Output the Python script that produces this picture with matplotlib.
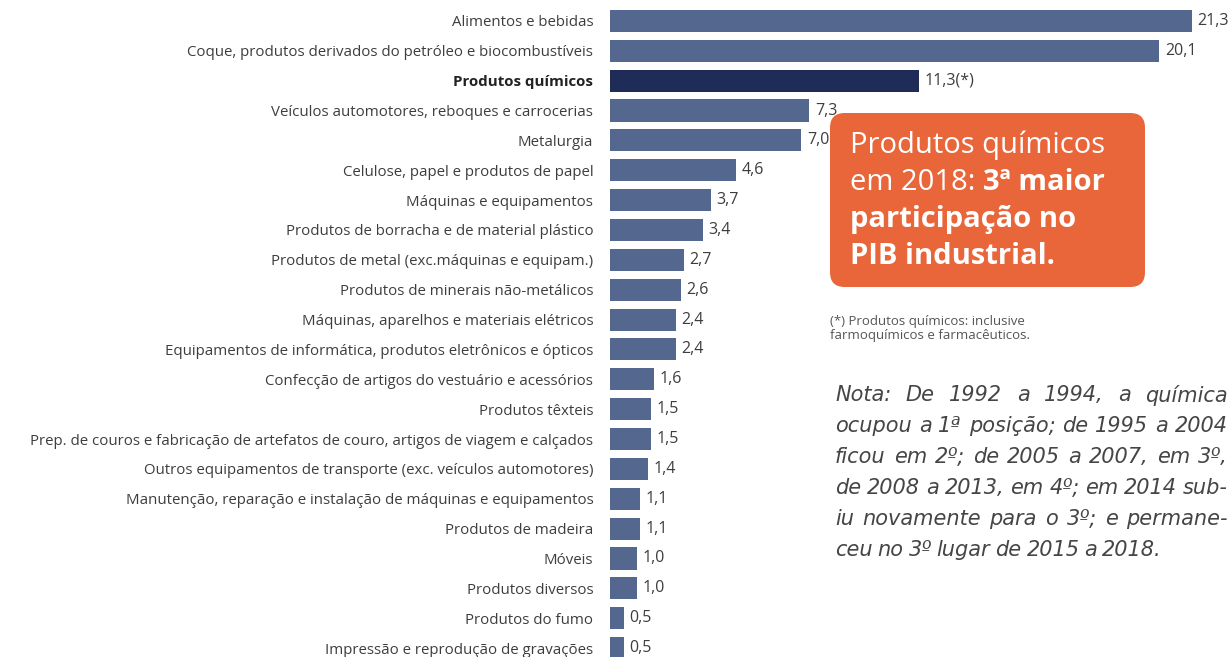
import matplotlib.pyplot as plt
from matplotlib.patches import FancyBboxPatch

setores = [
    'Alimentos e bebidas',
    'Coque, produtos derivados do petróleo e biocombustíveis',
    'Produtos químicos',
    'Veículos automotores, reboques e carrocerias',
    'Metalurgia',
    'Celulose, papel e produtos de papel',
    'Máquinas e equipamentos',
    'Produtos de borracha e de material plástico',
    'Produtos de metal (exc.máquinas e equipam.)',
    'Produtos de minerais não-metálicos',
    'Máquinas, aparelhos e materiais elétricos',
    'Equipamentos de informática, produtos eletrônicos e ópticos',
    'Confecção de artigos do vestuário e acessórios',
    'Produtos têxteis',
    'Prep. de couros e fabricação de artefatos de couro, artigos de viagem e calçados',
    'Outros equipamentos de transporte (exc. veículos automotores)',
    'Manutenção, reparação e instalação de máquinas e equipamentos',
    'Produtos de madeira',
    'Móveis',
    'Produtos diversos',
    'Produtos do fumo',
    'Impressão e reprodução de gravações',
]
participacao = [21.3, 20.1, 11.3, 7.3, 7.0, 4.6, 3.7, 3.4, 2.7, 2.6, 2.4, 2.4,
                1.6, 1.5, 1.5, 1.4, 1.1, 1.1, 1.0, 1.0, 0.5, 0.5]
destaque = 'Produtos químicos'

nota_linhas = [
    'Nota: De 1992 a 1994, a química',
    'ocupou a 1ª posição; de 1995 a 2004',
    'ficou em 2º; de 2005 a 2007, em 3º,',
    'de 2008 a 2013, em 4º; em 2014 sub-',
    'iu novamente para o 3º; e permane-',
    'ceu no 3º lugar de 2015 a 2018.',
]

plt.rcParams['font.family'] = ['Open Sans', 'DejaVu Sans']
azul = '#53678f'
azul_esc = '#1f2c58'
laranja = '#e8663a'
cinza = '#3d3d3d'

W, H = 1230, 657
fig = plt.figure(figsize=(12.3, 6.57), dpi=100)
ax = fig.add_axes([610 / W, 0, 582 / W, 1 - 6 / H])

y = list(range(len(setores)))
cores = [azul_esc if s == destaque else azul for s in setores]
ax.barh(y, participacao, height=0.74, color=cores)
ax.set_xlim(0, max(participacao))
ax.set_ylim(21.3, -0.5)

ax.set_yticks(y)
ax.set_yticklabels(setores, fontsize=10.8, color=cinza)
ax.tick_params(axis='y', length=0, pad=12)
ax.set_xticks([])
for lbl in ax.get_yticklabels():
    if lbl.get_text() == destaque:
        lbl.set_fontweight('bold')
        lbl.set_color('#222222')
for s in ax.spines.values():
    s.set_visible(False)

for i, v in enumerate(participacao):
    txt = f'{v:.1f}'.replace('.', ',')
    if setores[i] == destaque:
        txt += '(*)'
    ax.annotate(txt, (v, i), xytext=(4, 0), textcoords='offset points',
                va='center', ha='left', fontsize=11.5, color=cinza,
                annotation_clip=False)

# caixa laranja
box = FancyBboxPatch(
    (830 / W, 1 - 287 / H), 315 / W, 174 / H,
    boxstyle='round,pad=0,rounding_size=0.012', transform=fig.transFigure,
    facecolor=laranja, edgecolor='none', mutation_aspect=W / H)
fig.patches.append(box)

fs = 21
x0 = 850 / W
fig.text(x0, 1 - 145 / H, 'Produtos químicos', fontsize=fs, color='white', va='center')
t2 = fig.text(x0, 1 - 183 / H, 'em 2018: ', fontsize=fs, color='white', va='center')
fig.canvas.draw()
bb = t2.get_window_extent()
fig.text(bb.x1 / W, 1 - 183 / H, '3ª maior', fontsize=fs, color='white',
         va='center', fontweight='bold')
fig.text(x0, 1 - 220 / H, 'participação no', fontsize=fs, color='white',
         va='center', fontweight='bold')
fig.text(x0, 1 - 256 / H, 'PIB industrial.', fontsize=fs, color='white',
         va='center', fontweight='bold')

fig.text(830 / W, 1 - 328 / H,
         '(*) Produtos químicos: inclusive\nfarmoquímicos e farmacêuticos.',
         fontsize=9.5, color='#555555', va='center', linespacing=1.1)

# nota justificada
renderer = fig.canvas.get_renderer()
nx0, nx1 = 835, 1228
nfs = 15
for k, linha in enumerate(nota_linhas):
    yy = 1 - (395 + k * 31) / H
    palavras = linha.split(' ')
    objs = [fig.text(0, yy, p, fontsize=nfs, style='italic', family='DejaVu Sans',
                     color='#454545', va='center') for p in palavras]
    larg = [o.get_window_extent(renderer).width for o in objs]
    gap = (nx1 - nx0 - sum(larg)) / (len(palavras) - 1)
    if k == len(nota_linhas) - 1:
        gap = 5
    gap = max(gap, 3)
    x = nx0
    for o, w in zip(objs, larg):
        o.set_x(x / W)
        x += w + gap

fig.savefig('out.png', dpi=100)
